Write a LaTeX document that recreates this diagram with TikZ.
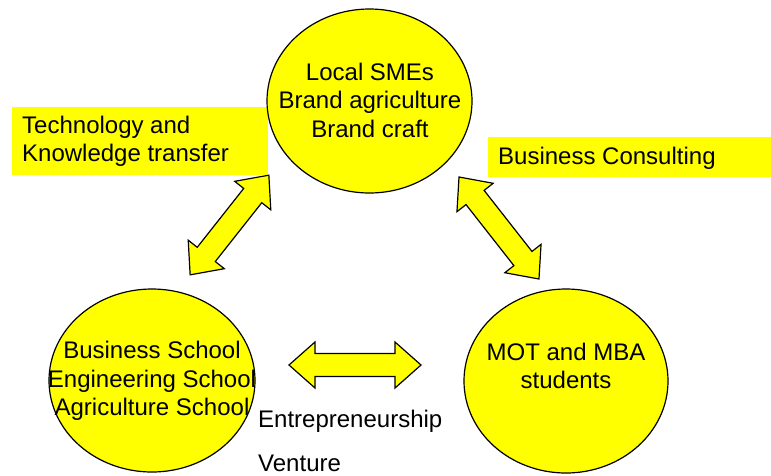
\documentclass[tikz,border=0pt]{standalone}
\usepackage{fontspec}
\setmainfont{Liberation Sans}
\usetikzlibrary{shapes.geometric}
\definecolor{ylw}{HTML}{FFFF00}
\tikzset{
  blob/.style={ellipse, draw=black, line width=1.2pt, fill=ylw, inner sep=0pt},
  txt/.style={font=\fontsize{24}{28.5}\selectfont, align=center, inner sep=0pt},
  ltxt/.style={font=\fontsize{24}{28}\selectfont, align=left, inner sep=0pt, anchor=west},
  tag/.style={fill=ylw, draw=none},
  barrow/.style={draw=black, line width=1.2pt, fill=ylw, line join=miter},
}
\newcommand{\blockarrow}[4]{%
  \begin{scope}[shift={(#1,#2)}, rotate=#3]
    \pgfmathsetmacro{\hl}{#4/2}
    \draw[barrow] (-\hl,0) -- (-\hl+26,23) -- (-\hl+26,11.5) -- (\hl-26,11.5) -- (\hl-26,23) -- (\hl,0)
      -- (\hl-26,-23) -- (\hl-26,-11.5) -- (-\hl+26,-11.5) -- (-\hl+26,-23) -- cycle;
  \end{scope}}
\begin{document}
\begin{tikzpicture}[x=1pt, y=-1pt]
\useasboundingbox (0,0) rectangle (771,475);
\fill[white] (0,0) rectangle (771,475);
% label boxes
\fill[tag] (12,107) rectangle (268,175);
\fill[tag] (488,137) rectangle (771,177);
\node[ltxt] (techlbl) at (22,141) {Technology and\\Knowledge transfer};
\node[ltxt] (conslbl) at (498,158) {Business Consulting};
% block arrows
\blockarrow{229.5}{225}{51.7}{127}
\blockarrow{499}{228}{-51.9}{129.6}
\blockarrow{355}{365}{0}{132}
% ellipses
\node[blob, minimum width=205pt, minimum height=184pt] (sme) at (369.5,101) {};
\node[blob, minimum width=206pt, minimum height=183pt] (school) at (152,380.5) {};
\node[blob, minimum width=204pt, minimum height=184pt] (mot) at (566,381) {};
\node[txt] (smetxt) at (370,100) {Local SMEs\\Brand agriculture\\Brand craft};
\node[txt] (schooltxt) at (152,381) {Business School\\Engineering School\\Agriculture School};
\node[txt] (mottxt) at (566,366) {MOT and MBA\\students};
\node[ltxt] (entre) at (258,421) {Entrepreneurship};
\node[ltxt] (vent) at (258,463) {Venture};
\end{tikzpicture}
\end{document}
